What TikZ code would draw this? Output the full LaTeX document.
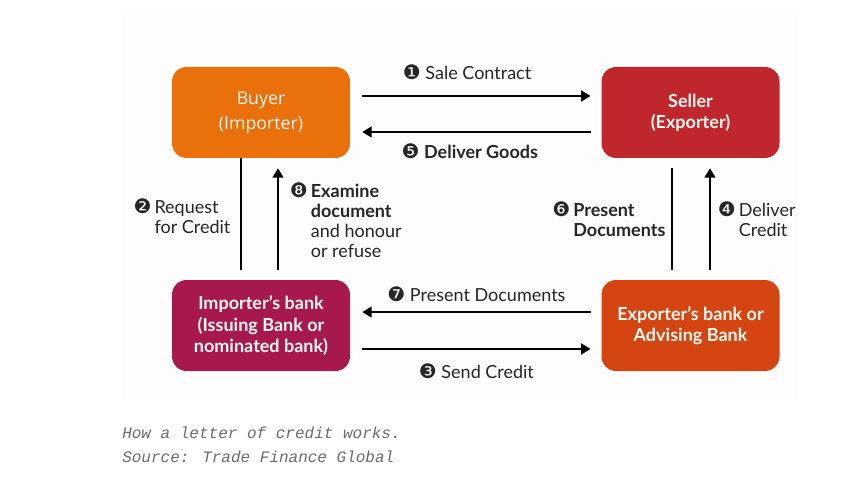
\documentclass[tikz,border=0pt]{standalone}
\usepackage{fontspec}
\setmainfont{Lato}
\newfontfamily\dingfont{DejaVu Sans}
\newfontfamily\buyerfont{Open Sans}
\newfontfamily\captionfont{Liberation Mono}
\usetikzlibrary{arrows.meta}
\definecolor{buyerorange}{HTML}{E9700A}
\definecolor{sellerred}{HTML}{C0272D}
\definecolor{issuerpink}{HTML}{A7184F}
\definecolor{advisorred}{HTML}{D44512}
\definecolor{captiongray}{HTML}{6B6B6B}
\newcommand{\circnum}[1]{{\normalfont\dingfont\fontsize{15}{15}\selectfont #1}}

\begin{document}
\begin{tikzpicture}[x=0.75pt,y=-0.75pt,
  party/.style={rounded corners=11pt,minimum width=133.5pt,minimum height=68.25pt,align=center,
    text=white!94!orange,font=\fontsize{13.5}{16}\selectfont\bfseries},
  flow/.style={line width=1.9pt,-{Triangle[length=7pt,width=8pt]}},
  flowline/.style={line width=1.9pt},
  lbl/.style={font=\fontsize{13.5}{15}\selectfont,text=black!85,inner sep=2pt}]
  \useasboundingbox (0,0) rectangle (866,477);
  \fill[black!0.8] (122,15) rectangle (798,400);
  \node[party,fill=buyerorange,font=\buyerfont\fontsize{13.3}{18.5}\selectfont] (buyer) at (261,112.5) {Buyer\\(Importer)};
  \node[party,fill=sellerred] (seller) at (690.5,112.5) {Seller\\(Exporter)};
  \node[party,fill=issuerpink] (issuer) at (261,325.5) {Importer's bank\\(Issuing Bank or\\nominated bank)};
  \node[party,fill=advisorred] (advisor) at (690.5,325.5) {Exporter's bank or\\Advising Bank};
  \draw[flow] ([xshift=9pt,yshift=12.4pt]buyer.east) -- ([xshift=-8pt,yshift=12.4pt]seller.west)
    node[midway,above=9pt,lbl,xshift=-7pt] (contract) {\circnum{❶} Sale Contract};
  \draw[flow] ([xshift=-8pt,yshift=-14.6pt]seller.west) -- ([xshift=9pt,yshift=-14.6pt]buyer.east)
    node[midway,below=6pt,lbl,xshift=-5pt] (goods) {\circnum{❺} \textbf{Deliver Goods}};
  \draw[flowline] ([xshift=-15pt]buyer.south) -- ([xshift=-15pt,yshift=7.5pt]issuer.north)
    node[midway,left=5pt,lbl,yshift=-4pt] (request) {\begin{tabular}{@{}l@{\,}l@{}}\circnum{❷}&Request\\&for Credit\end{tabular}};
  \draw[flow] ([xshift=12.75pt,yshift=7.5pt]issuer.north) -- ([xshift=12.75pt,yshift=-7.5pt]buyer.south)
    node[midway,right=6pt,lbl,yshift=-3pt] (examine) {\begin{tabular}{@{}l@{\,}l@{}}\circnum{❽}&\textbf{Examine}\\&\textbf{document}\\&and honour\\&or refuse\end{tabular}};
  \draw[flowline] ([xshift=-13.9pt,yshift=-7.5pt]seller.south) -- ([xshift=-13.9pt,yshift=7.5pt]advisor.north)
    node[midway,left=2pt,lbl,yshift=-2pt] (present) {\begin{tabular}{@{}l@{\,}l@{}}\circnum{❻}&\textbf{Present}\\&\textbf{Documents}\end{tabular}};
  \draw[flow] ([xshift=14.6pt,yshift=7.5pt]advisor.north) -- ([xshift=14.6pt,yshift=-7.5pt]seller.south)
    node[midway,right=3pt,lbl,yshift=-2pt] (credit) {\begin{tabular}{@{}l@{\,}l@{}}\circnum{❹}&Deliver\\&Credit\end{tabular}};
  \draw[flow] ([xshift=-8pt,yshift=10.1pt]advisor.west) -- ([xshift=9pt,yshift=10.1pt]issuer.east)
    node[midway,above=5pt,lbl] (documents) {\circnum{❼} Present Documents};
  \draw[flow] ([xshift=9pt,yshift=-17.6pt]issuer.east) -- ([xshift=-8pt,yshift=-17.6pt]advisor.west)
    node[midway,below=8pt,lbl] (send) {\circnum{❸} Send Credit};
  \node[anchor=base west,inner sep=0pt,text=captiongray,font=\captionfont\itshape\fontsize{12}{14}\selectfont] (caption) at (122,438) {How a letter of credit works.};
  \node[anchor=base west,inner sep=0pt,text=captiongray,font=\captionfont\itshape\fontsize{12}{14}\selectfont] (source) at (122,462) {Source: Trade Finance Global};
\end{tikzpicture}
\end{document}
